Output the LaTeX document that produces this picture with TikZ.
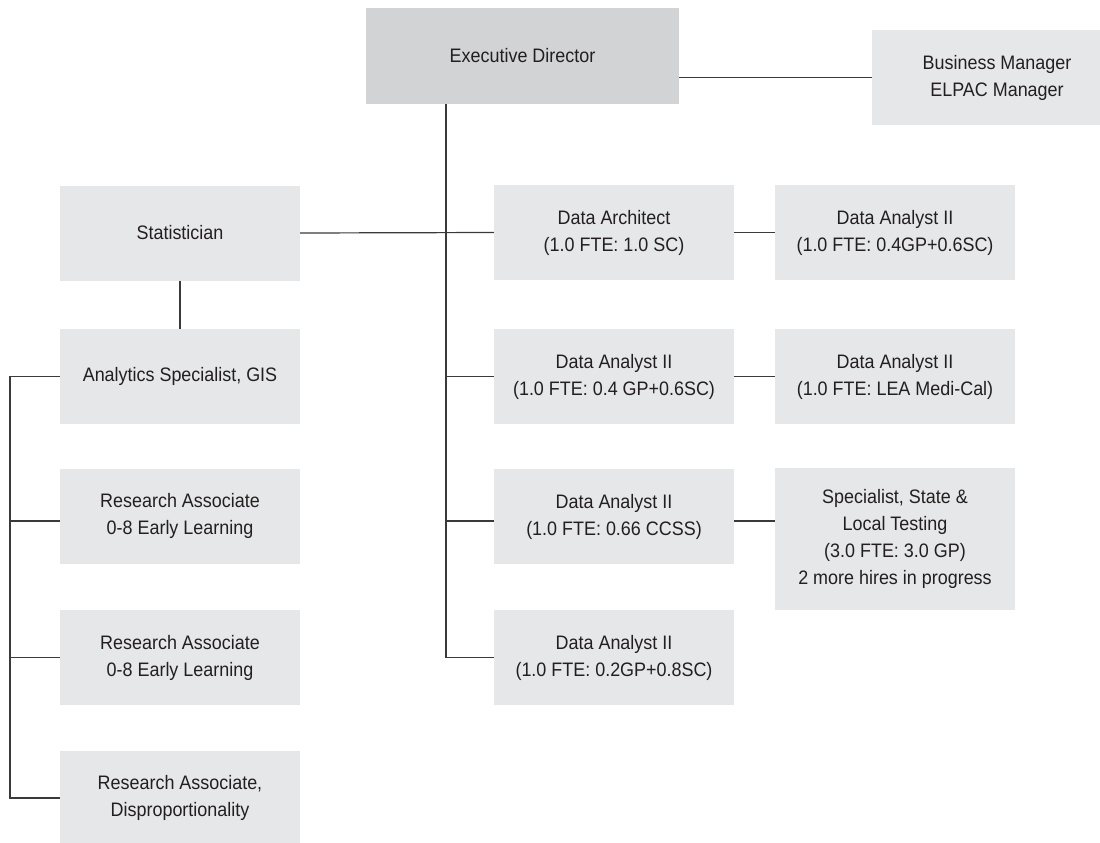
\documentclass[tikz,border=0pt]{standalone}
\usepackage{fontspec}
\setmainfont{Liberation Sans}[FakeStretch=0.92]
\usepackage{tikz}
\usetikzlibrary{positioning,calc}
\definecolor{boxgray}{HTML}{E6E7E8}
\definecolor{topgray}{HTML}{D1D3D4}
\definecolor{linegray}{HTML}{3A3A3A}
\definecolor{textgray}{HTML}{231F20}

\begin{document}
\begin{tikzpicture}[x=1pt,y=-1pt,
    font=\fontsize{19.5}{27}\selectfont,
    box/.style={fill=boxgray,text=textgray,align=center,inner sep=0pt,
      minimum width=240,minimum height=95},
    topbox/.style={box,fill=topgray,minimum width=313,minimum height=96},
    link/.style={draw=linegray,line width=1.2pt}]
  \path[use as bounding box,clip] (0,0) rectangle (1100,843);
  % top level
  \node[topbox] (ed) at (522.5,56) {Executive Director};
  \node[box,minimum width=250] (bm) at (997,77.5) {Business Manager\\ELPAC Manager};
  % left column
  \node[box] (stat) at (180,233)   {Statistician};
  \node[box] (ana)  at (180,376.5) {Analytics Specialist, GIS};
  \node[box] (raa)  at (180,516)   {Research Associate\\0-8 Early Learning};
  \node[box] (rab)  at (180,657.5) {Research Associate\\0-8 Early Learning};
  \node[box] (rac)  at (180,798)   {Research Associate,\\Disproportionality};
  % middle column
  \node[box] (arch) at (614,232.5) {Data Architect\\(1.0 FTE: 1.0 SC)};
  \node[box] (dab)  at (614,376.5) {Data Analyst II\\(1.0 FTE: 0.4 GP+0.6SC)};
  \node[box] (dac)  at (614,516.5) {Data Analyst II\\(1.0 FTE: 0.66 CCSS)};
  \node[box] (dad)  at (614,657.5) {Data Analyst II\\(1.0 FTE: 0.2GP+0.8SC)};
  % right column
  \node[box] (daa)  at (895,232.5) {Data Analyst II\\(1.0 FTE: 0.4GP+0.6SC)};
  \node[box] (lea)  at (895,376.5) {Data Analyst II\\(1.0 FTE: LEA Medi-Cal)};
  \node[box,minimum height=142] (spec) at (895,539)
    {Specialist, State \&\\Local Testing\\(3.0 FTE: 3.0 GP)\\2 more hires in progress};
  % rails
  \coordinate (spine) at (446,0);
  \coordinate (rail) at (10,0);
  % connectors
  \draw[link] (bm.west) -- (bm.west -| ed.east);
  \draw[link] (spine |- ed.south) -- (spine |- dad.west) -- (dad.west);
  \draw[link] (spine |- dab.west) -- (dab.west);
  \draw[link] ($(spine |- dac.west)+(0,4.5)$) -- ($(dac.west)+(0,4.5)$);
  \draw[link] (stat.east) -- (arch.west);
  \draw[link] (arch.east) -- (daa.west);
  \draw[link] (dab.east) -- (lea.west);
  \draw[link] ($(dac.east)+(0,4.5)$) -- ($(dac.east -| spec.west)+(0,4.5)$);
  \draw[link] (stat.south) -- (ana.north);
  \draw[link] (ana.west) -- (rail |- ana.west) -- (rail |- rac.west) -- (rac.west);
  \draw[link] ($(rail |- raa.west)+(0,5)$) -- ($(raa.west)+(0,5)$);
  \draw[link] (rail |- rab.west) -- (rab.west);
\end{tikzpicture}
\end{document}
